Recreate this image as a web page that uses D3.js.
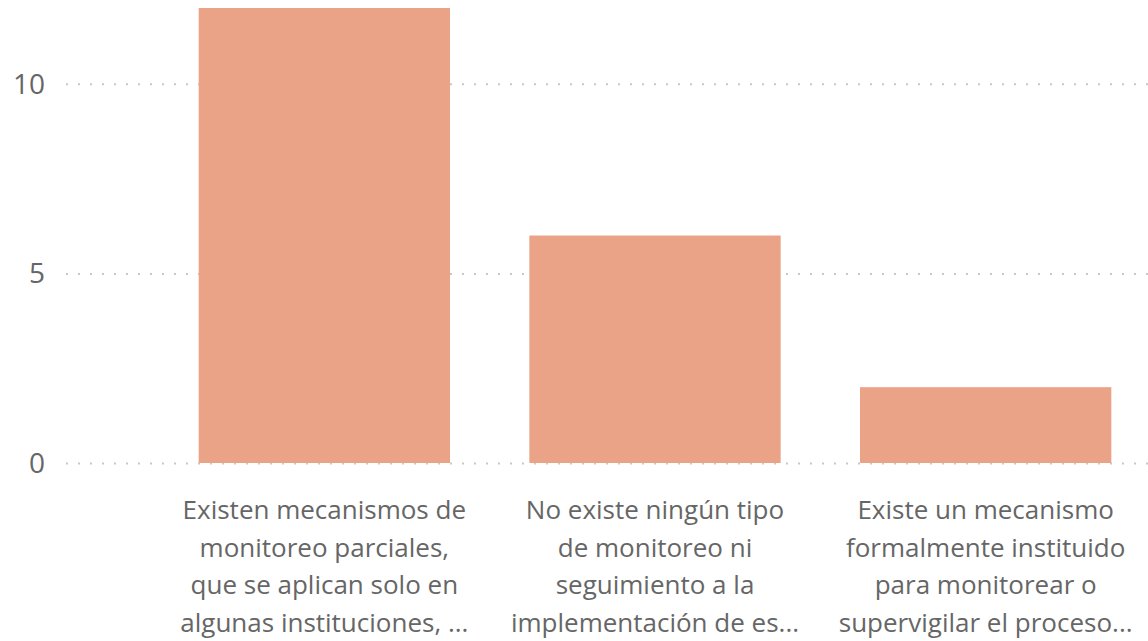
<!DOCTYPE html>
<html>
<head>
<meta charset="utf-8">
<script src="https://cdn.jsdelivr.net/npm/d3@7"></script>
<style>
  body { margin: 0; background: #fff; }
  svg { display: block; font-family: "Segoe UI", "Open Sans", "Noto Sans", sans-serif; }
  .grid line { stroke: #c8c8c8; stroke-width: 2; stroke-dasharray: 2, 10; }
  .grid .domain { display: none; }
  .yaxis text { fill: #666; font-size: 28px; }
  .cat { fill: #666; font-size: 26px; }
</style>
</head>
<body>
<div id="chart"></div>
<script>
var w = 1148, h = 641;

// categories (already wrapped into lines as shown in the picture)
var categories = ["cat1", "cat2", "cat3"];
var labelLines = [
    ["Existen mecanismos de", "monitoreo parciales,", "que se aplican solo en", "algunas instituciones, ..."],
    ["No existe ningún tipo", "de monitoreo ni", "seguimiento a la", "implementación de es..."],
    ["Existe un mecanismo", "formalmente instituido", "para monitorear o", "supervigilar el proceso..."]
];
var counts = [12, 6, 2];
var yTicks = [0, 5, 10];

var svg = d3.select("#chart").append("svg")
    .attr("width", w)
    .attr("height", h);

var xScale = d3.scaleBand()
    .domain(categories)
    .range([159, 1151])
    .paddingInner(0.24)
    .paddingOuter(0.12);

var yScale = d3.scaleLinear()
    .domain([0, 12])
    .range([463, 8]);

//GRID
svg.append("g")
    .attr("class", "grid")
    .attr("transform", "translate(66,0)")
    .call(d3.axisLeft(yScale).tickValues(yTicks).tickFormat("").tickSize(-(w - 66)));

//Y LABELS
svg.append("g")
    .attr("class", "yaxis")
    .selectAll("text")
    .data(yTicks)
    .enter().append("text")
    .attr("x", 45)
    .attr("y", function (d) { return yScale(d); })
    .attr("dy", "0.35em")
    .attr("text-anchor", "end")
    .text(function (d) { return d; });

//BARS
svg.append("g")
    .selectAll("rect")
    .data(counts)
    .enter().append("rect")
    .attr("x", function (d, i) { return xScale(categories[i]); })
    .attr("y", function (d) { return yScale(d); })
    .attr("width", xScale.bandwidth())
    .attr("height", function (d) { return yScale(0) - yScale(d); })
    .attr("fill", "#eba387");

//CATEGORY LABELS
var cats = svg.append("g")
    .selectAll("text")
    .data(labelLines)
    .enter().append("text")
    .attr("class", "cat")
    .attr("text-anchor", "middle");

cats.selectAll("tspan")
    .data(function (d, i) { return d.map(function (t) { return { t: t, i: i }; }); })
    .enter().append("tspan")
    .attr("x", function (d) { return xScale(categories[d.i]) + xScale.bandwidth() / 2; })
    .attr("y", function (d, j) { return 519 + j * 37.5; })
    .text(function (d) { return d.t; });
</script>
</body>
</html>
